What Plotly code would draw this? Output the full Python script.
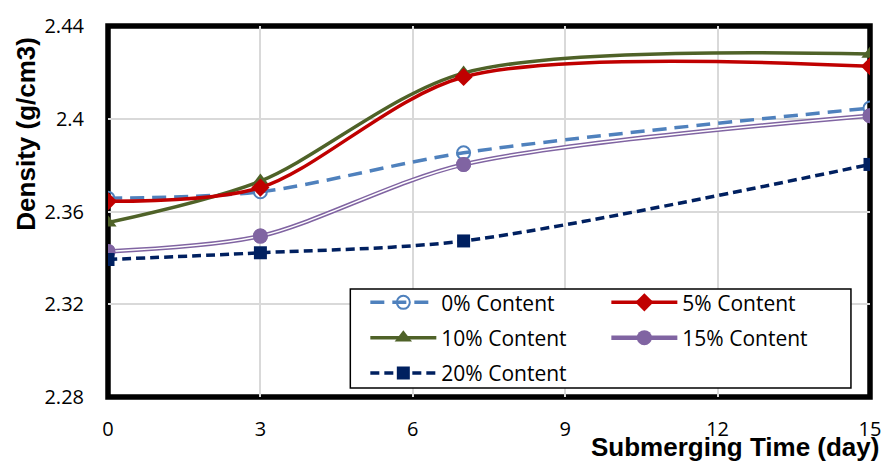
import plotly.graph_objects as go

days = [0, 3, 7, 15]
c0 = [2.3657, 2.3685, 2.3853, 2.4046]
c5 = [2.3644, 2.3703, 2.4180, 2.4226]
c10 = [2.3552, 2.3731, 2.4197, 2.4279]
c15 = [2.3428, 2.3494, 2.3803, 2.4013]
c20 = [2.3393, 2.3422, 2.3473, 2.3803]

names = ["0% Content", "5% Content", "10% Content", "15% Content", "20% Content"]
x_ticks = [0, 3, 6, 9, 12, 15]
y_ticks = [2.28, 2.32, 2.36, 2.40, 2.44]
y_ticktext = ["2.28", "2.32", "2.36", "2.4", "2.44"]

TICKFONT = dict(family="Open Sans", size=20, color="#000000")
LEGFONT = dict(family="Open Sans", size=21, color="#000000")
TITLEFONT = dict(family="Liberation Sans", size=26, color="#000000")
SM = 0.85

fig = go.Figure()

# 0% Content
fig.add_trace(go.Scatter(
    x=days, y=c0, name=names[0], mode="lines+markers",
    line=dict(color="#4f81bd", width=3.5, dash="14px,8px", shape="spline", smoothing=SM),
    marker=dict(symbol="circle-open", size=13, color="#4f81bd", line=dict(width=2)),
    legend="legend", legendgroup="g0", legendrank=1,
))
# 10% Content
fig.add_trace(go.Scatter(
    x=days, y=c10, name=names[2], mode="lines+markers",
    line=dict(color="#4f6228", width=3.5, shape="spline", smoothing=SM),
    marker=dict(symbol="triangle-up", size=15, color="#4f6228"),
    legend="legend", legendgroup="g2", legendrank=2,
))
# 5% Content
fig.add_trace(go.Scatter(
    x=days, y=c5, name=names[1], mode="lines+markers",
    line=dict(color="#c00000", width=3.5, shape="spline", smoothing=SM),
    marker=dict(symbol="diamond", size=14, color="#c00000"),
    legend="legend2", legendgroup="g1", legendrank=1,
))
# 15% Content (double line: purple outer, white core, markers on top)
fig.add_trace(go.Scatter(
    x=days, y=c15, name=names[3], mode="lines+markers",
    line=dict(color="#8064a2", width=4.5, shape="spline", smoothing=SM),
    marker=dict(symbol="circle", size=15, color="#8064a2"),
    legend="legend2", legendgroup="g3", legendrank=2,
))
fig.add_trace(go.Scatter(
    x=days, y=c15, name=names[3], mode="lines",
    line=dict(color="#ffffff", width=1.5, shape="spline", smoothing=SM),
    legend="legend2", legendgroup="g3", showlegend=False, hoverinfo="skip",
))
fig.add_trace(go.Scatter(
    x=days, y=c15, name=names[3], mode="markers",
    marker=dict(symbol="circle", size=15, color="#8064a2"),
    legend="legend2", legendgroup="g3", showlegend=False,
))
# 20% Content
fig.add_trace(go.Scatter(
    x=days, y=c20, name=names[4], mode="lines+markers",
    line=dict(color="#002060", width=3.5, dash="9px,5px", shape="spline", smoothing=SM),
    marker=dict(symbol="square", size=13, color="#002060"),
    legend="legend", legendgroup="g4", legendrank=3,
))

fig.update_layout(
    width=893, height=462,
    margin=dict(l=108, r=18, t=19, b=65),
    paper_bgcolor="white", plot_bgcolor="white",
    showlegend=True,
    legend=dict(x=0.3377, y=0.3095, xanchor="left", yanchor="top",
                font=LEGFONT, bgcolor="rgba(0,0,0,0)", borderwidth=0,
                traceorder="grouped", tracegroupgap=5, itemwidth=66),
    legend2=dict(x=0.654, y=0.3095, xanchor="left", yanchor="top",
                 font=LEGFONT, bgcolor="rgba(0,0,0,0)", borderwidth=0,
                 traceorder="grouped", tracegroupgap=5, itemwidth=66),
    xaxis=dict(range=[0, 15], tickvals=x_ticks, ticktext=[str(v) for v in x_ticks],
               showgrid=True, gridcolor="#d9d9d9", gridwidth=1.5, zeroline=False,
               showline=False, ticks="", tickfont=TICKFONT, ticklabelstandoff=18),
    yaxis=dict(range=[2.28, 2.44], tickvals=y_ticks, ticktext=y_ticktext,
               showgrid=True, gridcolor="#d9d9d9", gridwidth=1.5, zeroline=False,
               showline=False, ticks="", tickfont=TICKFONT, ticklabelstandoff=23),
    shapes=[
        dict(type="rect", xref="paper", yref="paper", x0=0.318, x1=0.975, y0=0.024, y1=0.291,
             line=dict(color="#000000", width=1.5), fillcolor="white", layer="above"),
        dict(type="rect", xref="paper", yref="paper", x0=0, x1=1, y0=0, y1=1,
             line=dict(color="#000000", width=5.5), fillcolor="rgba(0,0,0,0)", layer="below"),
    ],
    annotations=[
        dict(text="<b>Density (g/cm3)</b>", xref="paper", yref="paper",
             x=-0.108, y=0.709, textangle=-90, showarrow=False,
             font=TITLEFONT, xanchor="center", yanchor="middle"),
        dict(text="<b>Submerging Time (day)</b>", xref="paper", yref="paper",
             x=1.015, y=-0.136, showarrow=False,
             font=TITLEFONT, xanchor="right", yanchor="middle"),
    ],
)

fig.write_html("out.html", config={"displayModeBar": False},
               post_script="document.body.style.margin='0';document.body.style.overflow='hidden';")
